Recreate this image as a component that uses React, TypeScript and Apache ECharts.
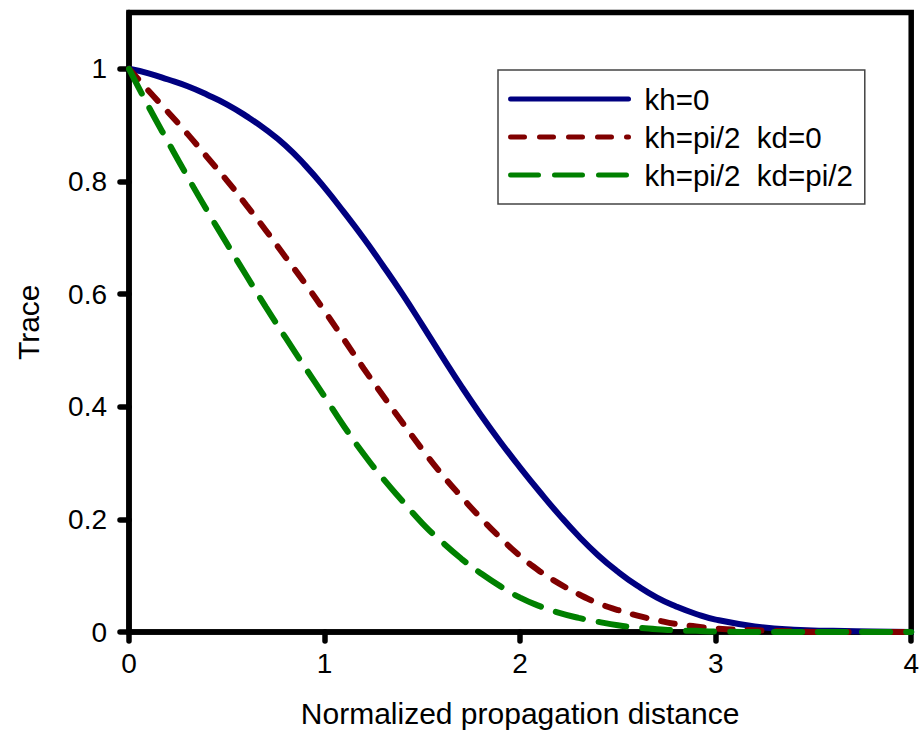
import React, { useEffect, useRef } from "react";
import * as echarts from "echarts";

const xs = [
  0, 0.1, 0.2, 0.3, 0.4, 0.5, 0.6, 0.7, 0.8, 0.9, 1.0, 1.1, 1.2, 1.3, 1.4, 1.5, 1.6, 1.7, 1.8, 1.9, 2.0,
  2.1, 2.2, 2.3, 2.4, 2.5, 2.6, 2.7, 2.8, 2.9, 3.0, 3.2, 3.4, 3.6, 3.8, 4.0,
];

const kh0 = [
  1.0, 0.992, 0.981, 0.969, 0.954, 0.937, 0.916, 0.892, 0.864, 0.829, 0.789, 0.745, 0.699, 0.65, 0.599,
  0.545, 0.49, 0.436, 0.385, 0.337, 0.292, 0.249, 0.208, 0.17, 0.136, 0.107, 0.082, 0.061, 0.045, 0.032,
  0.022, 0.01, 0.004, 0.002, 0.001, 0.0,
];

const khPiKd0 = [
  1.0, 0.961, 0.923, 0.884, 0.843, 0.802, 0.758, 0.713, 0.666, 0.619, 0.57, 0.519, 0.468, 0.419, 0.371,
  0.324, 0.28, 0.24, 0.202, 0.167, 0.135, 0.108, 0.086, 0.067, 0.051, 0.039, 0.029, 0.021, 0.014, 0.01,
  0.006, 0.003, 0.001, 0.0, 0.0, 0.0,
];

const khPiKdPi = [
  1.0, 0.933, 0.87, 0.808, 0.748, 0.69, 0.633, 0.577, 0.523, 0.47, 0.418, 0.365, 0.316, 0.272, 0.232,
  0.193, 0.16, 0.13, 0.104, 0.081, 0.061, 0.046, 0.034, 0.025, 0.018, 0.012, 0.008, 0.005, 0.003, 0.002,
  0.001, 0.0, 0.0, 0.0, 0.0, 0.0,
];

const seriesNames = ["kh=0", "kh=pi/2  kd=0", "kh=pi/2  kd=pi/2"];
const yTicks = [0, 0.2, 0.4, 0.6, 0.8, 1];
const xTicks = [0, 1, 2, 3, 4];

const FONT = "'Liberation Sans', Arial, sans-serif";
const AXW = 5.5;
const SW = 6;

export default function App() {
  const ref = useRef<HTMLDivElement>(null);
  useEffect(() => {
    if (!ref.current) return;
    const chart = echarts.init(ref.current, null, { renderer: "svg" });
    const pair = (ys: number[]) => xs.map((x, i) => [x, ys[i]]);
    chart.setOption({
      animation: false,
      backgroundColor: "#fff",
      textStyle: { fontFamily: FONT },
      grid: {
        left: 129,
        right: 10,
        top: 12.5,
        bottom: 94,
        show: true,
        borderColor: "#000",
        borderWidth: AXW,
      },
      legend: {
        orient: "vertical",
        left: 498,
        top: 70,
        padding: [14, 12, 14, 10],
        itemWidth: 118,
        itemHeight: 14,
        itemGap: 8,
        borderColor: "#444",
        borderWidth: 1.5,
        borderRadius: 0,
        backgroundColor: "#fff",
        itemStyle: { opacity: 0 },
        lineStyle: { width: 5, cap: "round" },
        textStyle: {
          fontSize: 29.5,
          color: "#000",
          fontFamily: FONT,
          lineHeight: 30,
          padding: [0, 0, 0, 11],
        },
        data: seriesNames,
      },
      xAxis: {
        type: "value",
        min: 0,
        max: 4,
        interval: 1,
        name: "Normalized propagation distance",
        nameLocation: "middle",
        nameGap: 66,
        nameTextStyle: { fontSize: 30, color: "#000", fontFamily: FONT },
        axisLine: { show: true, lineStyle: { color: "#000", width: AXW } },
        axisTick: {
          show: true,
          inside: false,
          length: 9,
          customValues: xTicks,
          lineStyle: { color: "#000", width: AXW, cap: "round" },
        },
        axisLabel: {
          fontSize: 28,
          color: "#000",
          margin: 17,
          fontFamily: FONT,
          customValues: xTicks,
        },
        splitLine: { show: false },
      },
      yAxis: {
        type: "value",
        min: 0,
        max: 1.1,
        interval: 0.2,
        name: "Trace",
        nameLocation: "middle",
        nameGap: 86,
        nameTextStyle: { fontSize: 30, color: "#000", fontFamily: FONT },
        axisLine: { show: true, lineStyle: { color: "#000", width: AXW } },
        axisTick: {
          show: true,
          inside: false,
          length: 9,
          customValues: yTicks,
          lineStyle: { color: "#000", width: AXW, cap: "round" },
        },
        axisLabel: {
          fontSize: 28,
          color: "#000",
          margin: 22,
          fontFamily: FONT,
          customValues: yTicks,
        },
        splitLine: { show: false },
      },
      series: [
        {
          name: seriesNames[0],
          type: "line",
          data: pair(kh0),
          symbol: "none",
          smooth: 0.5,
          lineStyle: { color: "#000080", width: SW, type: "solid", cap: "round" },
          itemStyle: { color: "#000080" },
        },
        {
          name: seriesNames[1],
          type: "line",
          data: pair(khPiKd0),
          symbol: "none",
          smooth: 0.5,
          lineStyle: { color: "#800000", width: SW, type: [14, 15], cap: "round" },
          itemStyle: { color: "#800000" },
        },
        {
          name: seriesNames[2],
          type: "line",
          data: pair(khPiKdPi),
          symbol: "none",
          smooth: 0.5,
          lineStyle: { color: "#008000", width: SW, type: [28, 16], cap: "round" },
          itemStyle: { color: "#008000" },
        },
      ],
    });
    return () => chart.dispose();
  }, []);
  return (
    <div
      ref={ref}
      style={{ position: "fixed", left: 0, top: 0, width: 922, height: 733, background: "#fff" }}
    />
  );
}
